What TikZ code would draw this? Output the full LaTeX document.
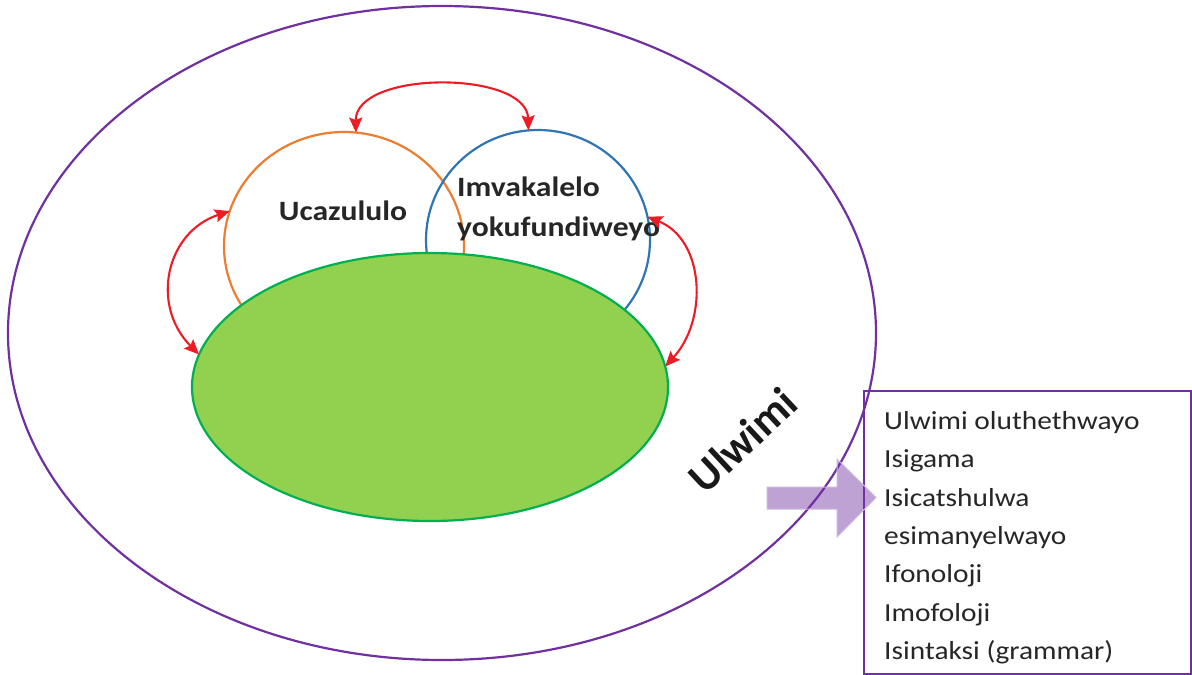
\documentclass[tikz,border=0pt]{standalone}
\usepackage{fontspec}
\setmainfont{Carlito}
\usetikzlibrary{shapes.geometric,arrows.meta}
\definecolor{outerpurple}{RGB}{112,48,160}
\definecolor{orangeline}{RGB}{237,125,49}
\definecolor{blueline}{RGB}{46,117,182}
\definecolor{greenfill}{RGB}{146,208,80}
\definecolor{greenline}{RGB}{0,176,80}
\definecolor{redarrow}{RGB}{237,28,36}
\tikzset{
  oval/.style={ellipse, inner sep=0pt, outer sep=0pt, line width=2.2pt},
  link/.style={draw=redarrow, line width=2.1pt, {Stealth[length=15pt,width=13pt,inset=2.5pt]}-{Stealth[length=15pt,width=13pt,inset=2.5pt]}},
  biglabel/.style={font=\fontsize{28}{40}\selectfont\bfseries, text=black!85, inner sep=0pt, xscale=1.13},
  listline/.style={font=\fontsize{26}{30}\selectfont, text=black!85, inner sep=0pt, anchor=base west, xscale=1.13},
}
\begin{document}
\begin{tikzpicture}[x=1pt,y=-1pt]
\useasboundingbox (0,0) rectangle (1192,675);
% outer ellipse
\node[oval, draw=outerpurple, minimum width=868pt, minimum height=654pt] (outer) at (442,333) {};
% orange and blue circles
\node[oval, draw=orangeline, minimum width=240pt, minimum height=228pt] (orange) at (344,246) {};
\node[oval, draw=blueline, minimum width=224pt, minimum height=220pt] (blue) at (538,240) {};
% green ellipse
\node[oval, draw=greenline, fill=greenfill, minimum width=476pt, minimum height=268pt] (green) at (430,387) {};
% labels
\node[biglabel] (uca) at (343,211) {Ucazululo};
\node[biglabel, anchor=base west] (imv) at (457,196.7) {Imvakalelo};
\node[biglabel, anchor=base west] (yok) at (457,236.7) {yokufundiweyo};
\node[font=\fontsize{44}{46}\selectfont\bfseries, text=black!90, inner sep=0pt, rotate=43] (ulw) at (743,440) {Ulwimi};
% red double arrows
\draw[link] (orange.84) .. controls (355,70) and (527,70) .. (blue.95);
\draw[link] (orange.163) .. controls (166,232) and (150,305) .. (green.172);
\draw[link] (blue.12) .. controls (705,240) and (708,320) .. (green.5);
% list box
\node[draw=outerpurple, line width=1.8pt, minimum width=327pt, minimum height=283pt, inner sep=0pt, anchor=north west] (box) at (863,390) {};
\foreach \t [count=\i] in {Ulwimi oluthethwayo, Isigama, Isicatshulwa, esimanyelwayo, Ifonoloji, Imofoloji, Isintaksi (grammar)}
  \node[listline] (l\i) at (884,{429.3+38.4*(\i-1)}) {\t};
% block arrow
\draw[draw=outerpurple!35, fill=outerpurple, fill opacity=0.45, line width=1pt]
  (767,487) -- (837,487) -- (837,459) -- (876,497.5) -- (837,537) -- (837,509) -- (767,509) -- cycle;
\end{tikzpicture}
\end{document}
